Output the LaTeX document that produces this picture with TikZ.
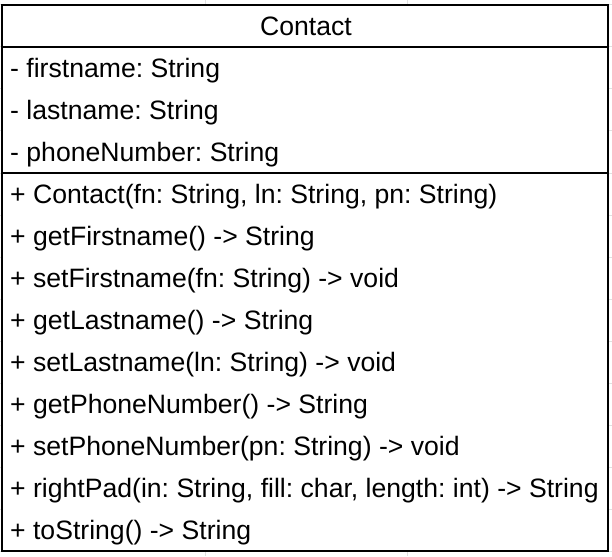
\documentclass[tikz,border=0pt]{standalone}
\usepackage{fontspec}
\setmainfont{Liberation Sans}
\frenchspacing
\begin{document}
\begin{tikzpicture}[x=1pt,y=-1pt,
  gridline/.style={draw=black!12,line width=1pt},
  classline/.style={draw=black,line width=2.2pt},
  member/.style={anchor=base west,inner sep=0pt,font=\fontsize{26.6}{30}\selectfont},
  title/.style={anchor=base,inner sep=0pt,font=\fontsize{26.6}{30}\selectfont}]
  \useasboundingbox (0,0) rectangle (612,556);
  % spreadsheet grid behind the class box
  \foreach \r in {0,...,13} \draw[gridline] (0,5+42*\r) -- (612,5+42*\r);
  \foreach \c in {205,407} \draw[gridline] (\c,0) -- (\c,556);
  % class box
  \fill[white] (2,5) rectangle (608,551);
  \draw[classline] (2,5) rectangle (608,551);
  \draw[classline] (2,47) -- (608,47);
  \draw[classline] (2,173) -- (608,173);
  % class name
  \node[title] (header) at (306,26+9.5) {Contact};
  % attributes
  \node[member] (a1) at (10,68+9.5) {- firstname: String};
  \node[member] (a2) at (10,110+9.5) {- lastname: String};
  \node[member] (a3) at (10,152+9.5) {- phoneNumber: String};
  % methods
  \node[member] (m1) at (10,194+9.5) {+ Contact(fn: String, ln: String, pn: String)};
  \node[member] (m2) at (10,236+9.5) {+ getFirstname() -> String};
  \node[member] (m3) at (10,278+9.5) {+ setFirstname(fn: String) -> void};
  \node[member] (m4) at (10,320+9.5) {+ getLastname() -> String};
  \node[member] (m5) at (10,362+9.5) {+ setLastname(ln: String) -> void};
  \node[member] (m6) at (10,404+9.5) {+ getPhoneNumber() -> String};
  \node[member] (m7) at (10,446+9.5) {+ setPhoneNumber(pn: String) -> void};
  \node[member] (m8) at (10,488+9.5) {+ rightPad(in: String, fill: char, length: int) -> String};
  \node[member] (m9) at (10,530+9.5) {+ toString() -> String};
\end{tikzpicture}
\end{document}
